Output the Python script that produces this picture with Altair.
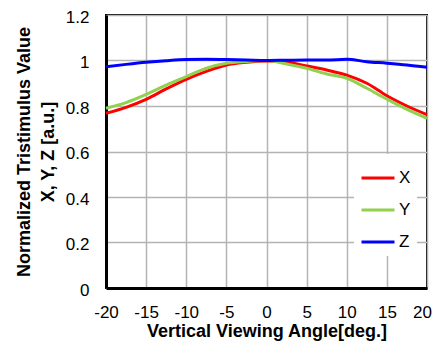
import altair as alt
import pandas as pd

angles = [-20, -17.5, -15, -12.5, -10, -7.5, -5, -2.5, 0, 2.5, 5, 7.5, 10, 12.5, 15, 17.5, 20]
x_vals = [0.768, 0.794, 0.829, 0.875, 0.917, 0.952, 0.980, 0.992, 0.998, 0.993, 0.976, 0.958, 0.936, 0.900, 0.845, 0.800, 0.762]
y_vals = [0.790, 0.815, 0.851, 0.892, 0.929, 0.966, 0.988, 0.996, 1.000, 0.985, 0.966, 0.941, 0.922, 0.878, 0.830, 0.785, 0.746]
z_vals = [0.973, 0.983, 0.992, 0.999, 1.004, 1.005, 1.004, 1.002, 1.000, 1.001, 1.002, 1.002, 1.005, 0.995, 0.988, 0.980, 0.970]
series = ["X", "Y", "Z"]
colors = ["#ff0000", "#92d050", "#0000ff"]

rows = []
for name, vals in zip(series, [x_vals, y_vals, z_vals]):
    for a, v in zip(angles, vals):
        rows.append({"angle": a, "value": v, "series": name})
df = pd.DataFrame(rows)

FONT = "Liberation Sans"

chart = alt.Chart(df).mark_line(strokeWidth=3, interpolate="monotone").encode(
    x=alt.X("angle:Q",
            scale=alt.Scale(domain=[-20, 20], nice=False, zero=False),
            axis=alt.Axis(values=[-20, -15, -10, -5, 0, 5, 10, 15, 20],
                          labelExpr="replace(datum.label, '\u2212', '-')",
                          labelOffset=alt.condition("datum.value == 20", alt.value(-5), alt.value(0)),
                          title="Vertical Viewing Angle[deg.]",
                          titleFont=FONT, titleFontSize=18, titleFontWeight="bold",
                          titleColor="#000000", titlePadding=2,
                          labelFont=FONT, labelFontSize=17, labelColor="#000000",
                          labelPadding=16, labelFlush=False, ticks=False,
                          domainColor="#000000", domainWidth=3,
                          grid=True, gridColor="#b4b4b4", gridWidth=1.5)),
    y=alt.Y("value:Q",
            scale=alt.Scale(domain=[0, 1.2], nice=False),
            axis=alt.Axis(values=[0, 0.2, 0.4, 0.6, 0.8, 1.0, 1.2],
                          format=".1~f",
                          title=["Normalized Tristimulus Value", "X, Y, Z [a.u.]"],
                          titleFont=FONT, titleFontSize=18, titleFontWeight="bold",
                          titleColor="#000000", titleLineHeight=24, titlePadding=8,
                          labelFont=FONT, labelFontSize=17, labelColor="#000000",
                          labelPadding=17, labelOffset=2, labelFlush=False, ticks=False,
                          domainColor="#000000", domainWidth=3,
                          grid=True, gridColor="#b4b4b4", gridWidth=1.5)),
    color=alt.Color("series:N",
                    scale=alt.Scale(domain=series, range=colors),
                    legend=alt.Legend(title=None, orient="none", legendX=248, legendY=139,
                                      fillColor="#ffffff", padding=6,
                                      symbolType="stroke", symbolSize=1089,
                                      symbolStrokeWidth=3, rowPadding=6,
                                      labelFont=FONT, labelFontSize=17,
                                      labelColor="#000000", labelOffset=3)),
).properties(
    width=321, height=273,
    autosize=alt.AutoSizeParams(type="none"),
    padding={"left": 98, "top": 7, "right": 5, "bottom": 55},
).configure_view(stroke="#000000", strokeWidth=2)

chart.save("out.html", embed_options={"renderer": "svg", "actions": False})
